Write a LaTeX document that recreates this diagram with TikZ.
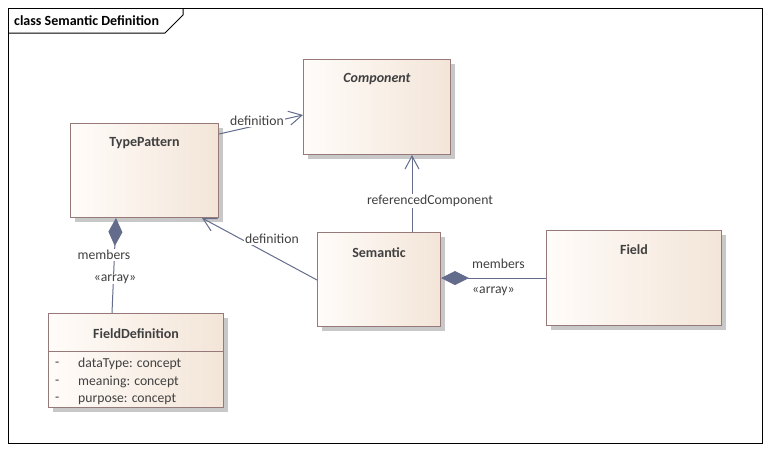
\documentclass[tikz,border=0pt]{standalone}
\usepackage{fontspec}
\setmainfont{Carlito}
\usetikzlibrary{arrows.meta,shadows,calc}
\definecolor{boxL}{RGB}{255,252,249}
\definecolor{boxR}{RGB}{243,229,216}
\definecolor{bordercol}{RGB}{150,122,122}
\definecolor{linecol}{RGB}{100,110,140}
\definecolor{txtcol}{RGB}{64,64,64}
\definecolor{diacol}{RGB}{100,108,140}
\definecolor{shadowcol}{RGB}{200,200,200}
\tikzset{
  umlbox/.style={draw=bordercol, line width=1pt, shading=axis, left color=boxL, right color=boxR,
    anchor=north west, inner sep=0pt,
    drop shadow={shadow xshift=4pt, shadow yshift=-4pt, fill=shadowcol, opacity=1}},
  title/.style={text=txtcol, font=\fontsize{14}{16}\selectfont\bfseries, inner sep=0pt},
  plain/.style={text=txtcol, font=\fontsize{13.7}{16}\selectfont, inner sep=1pt},
  lbl/.style={text=txtcol, font=\fontsize{13.7}{16}\selectfont, fill=white, inner sep=1pt},
  conn/.style={draw=linecol, line width=1pt},
  openarr/.style={-{Straight Barb[length=13pt,width=14pt,line width=1pt]}},
  diastart/.style={{Diamond[length=28pt,width=14pt,fill=diacol,color=diacol]}-}
}
\begin{document}
\begin{tikzpicture}[x=1pt,y=-1pt]
\useasboundingbox (0,0) rectangle (769,451);
\fill[white] (0,0) rectangle (769,451);
% frame
\draw[black, line width=1pt] (8,8) rectangle (762,443);
\draw[black, line width=1pt] (8,33) -- (165,33) -- (183,15) -- (183,8);
\node[anchor=west, inner sep=0pt, font=\fontsize{14}{16}\selectfont\bfseries] (frametitle) at (14,21) {class Semantic Definition};

% boxes
\node[umlbox, minimum width=147pt, minimum height=95pt] (comp) at (303,59) {};
\node[umlbox, minimum width=148pt, minimum height=94pt] (tp) at (70,123) {};
\node[umlbox, minimum width=123pt, minimum height=94pt] (sem) at (317,232) {};
\node[umlbox, minimum width=175pt, minimum height=95pt] (field) at (546,230) {};
\node[umlbox, minimum width=175pt, minimum height=94pt] (fd) at (48,313) {};
\draw[bordercol, line width=1pt] ($(fd.north west)+(0,38)$) -- ($(fd.north east)+(0,38)$);

% titles
\node[title, font=\fontsize{14}{16}\selectfont\bfseries\itshape] (compT) at ($(comp.north)+(0,20)$) {Component};
\node[title] (tpT) at ($(tp.north)+(0,20)$) {TypePattern};
\node[title] (semT) at ($(sem.north)+(0,21)$) {Semantic};
\node[title] (fieldT) at ($(field.north)+(0,20)$) {Field};
\node[title] (fdT) at ($(fd.north)+(0,21)$) {FieldDefinition};

% attributes
\node[plain, anchor=west] (d1) at (54,364) {-};
\node[plain, anchor=west] (a1) at (77,364) {dataType: concept};
\node[plain, anchor=west] (d2) at (54,382) {-};
\node[plain, anchor=west] (a2) at (77,382) {meaning: concept};
\node[plain, anchor=west] (d3) at (54,399) {-};
\node[plain, anchor=west] (a3) at (77,399) {purpose: concept};

% connectors
\draw[conn, openarr] ($(tp.north east)+(0,11)$) -- ($(comp.north west)+(0,56)$);
\node[lbl] (l1) at (257,121) {definition};

\draw[conn, openarr] ($(sem.north west)+(95,0)$) -- ($(comp.south west)+(109,0)$);
\node[lbl] (l2) at (430,201) {referencedComponent};

\draw[conn, openarr] ($(sem.north west)+(0,48)$) -- ($(tp.south east)+(-17,0)$);
\node[lbl] (l3) at (272,239) {definition};

\draw[conn, diastart] ($(tp.south west)+(46,0)$) -- ($(fd.north west)+(64,0)$);
\node[lbl] (l4) at (104,255) {members};
\node[lbl] (l5) at (115,279) {«array»};

\draw[conn, diastart] ($(sem.north east)+(0,46)$) -- ($(field.north west)+(0,48)$);
\node[plain, anchor=west] (l6) at (471,264) {members};
\node[plain, anchor=west] (l7) at (471,291) {«array»};
\end{tikzpicture}
\end{document}
